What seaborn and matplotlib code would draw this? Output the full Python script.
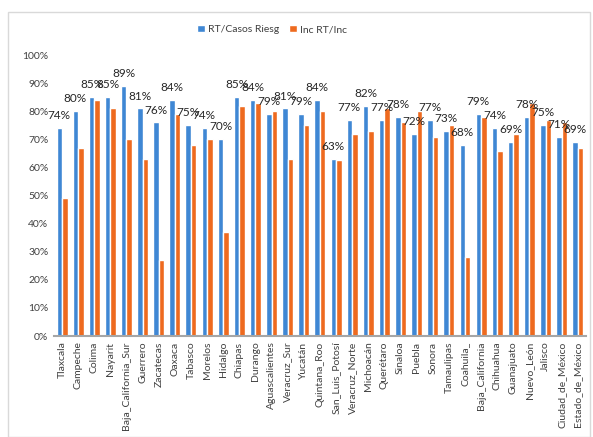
import matplotlib
matplotlib.use("Agg")
import matplotlib.pyplot as plt
import seaborn as sns
import pandas as pd
from matplotlib.ticker import PercentFormatter
from matplotlib.patches import Rectangle

states = ["Tlaxcala", "Campeche", "Colima", "Nayarit", "Baja_California_Sur", "Guerrero",
          "Zacatecas", "Oaxaca", "Tabasco", "Morelos", "Hidalgo", "Chiapas", "Durango",
          "Aguascalientes", "Veracruz_Sur", "Yucatán", "Quintana_Roo", "San_Luis_Potosí",
          "Veracruz_Norte", "Michoacán", "Querétaro", "Sinaloa", "Puebla", "Sonora",
          "Tamaulipas", "Coahuila_", "Baja_California", "Chihuahua", "Guanajuato",
          "Nuevo_León", "Jalisco", "Ciudad_de_México", "Estado_de_México"]
rt_casos = [0.74, 0.80, 0.85, 0.85, 0.89, 0.81, 0.76, 0.84, 0.75, 0.74, 0.70, 0.85, 0.84,
            0.79, 0.81, 0.79, 0.84, 0.63, 0.77, 0.82, 0.77, 0.78, 0.72, 0.77, 0.73, 0.68,
            0.79, 0.74, 0.69, 0.78, 0.75, 0.71, 0.69]
inc_rt = [0.49, 0.67, 0.84, 0.81, 0.70, 0.63, 0.27, 0.79, 0.68, 0.70, 0.37, 0.82, 0.83,
          0.80, 0.63, 0.75, 0.80, 0.625, 0.72, 0.73, 0.81, 0.76, 0.80, 0.71, 0.75, 0.28,
          0.78, 0.66, 0.72, 0.83, 0.77, 0.76, 0.67]
series_names = ["RT/Casos Riesg", "Inc RT/Inc"]

df = pd.concat([
    pd.DataFrame({"estado": states, "valor": rt_casos, "serie": series_names[0]}),
    pd.DataFrame({"estado": states, "valor": inc_rt, "serie": series_names[1]}),
])

sns.set_theme(style="white")
plt.rcParams["font.family"] = ["Lato", "DejaVu Sans"]

fig = plt.figure(figsize=(5.93, 4.37), dpi=100)
ax = fig.add_axes([0.091, 0.231, 0.897, 0.643])

palette = {series_names[0]: "#3F87D4", series_names[1]: "#EE6A1F"}
sns.barplot(data=df, x="estado", y="valor", hue="serie", palette=palette,
            width=0.68, ax=ax, saturation=1, legend=True)

ax.set_ylim(0, 1.0)
ax.set_xlim(-0.5, len(states) - 0.5)
ax.set_yticks([i / 10 for i in range(11)])
ax.yaxis.set_major_formatter(PercentFormatter(1.0, decimals=0))
ax.set_xlabel("")
ax.set_ylabel("")
ax.tick_params(axis="y", labelsize=7.5, labelcolor="#404040", length=0, pad=4)
ax.tick_params(axis="x", labelsize=7.5, labelcolor="#404040", length=0, pad=4, rotation=90)
for s in ["top", "right", "left"]:
    ax.spines[s].set_visible(False)
ax.spines["bottom"].set_color("#A6A6A6")
ax.spines["bottom"].set_linewidth(1.5)

labels = [f"{round(v*100):.0f}%" for v in rt_casos]
ax.bar_label(ax.containers[0], labels=labels, padding=5, fontsize=8.5, color="#262626")

leg = ax.legend(loc="upper center", bbox_to_anchor=(0.41, 1.14), ncol=2, frameon=False,
                fontsize=7.5, handlelength=0.7, handleheight=0.7, columnspacing=1.0,
                handletextpad=0.3)
for t in leg.get_texts():
    t.set_color("#404040")

fig.patches.append(Rectangle((0.013, 0.0), 0.982, 0.972, transform=fig.transFigure,
                             fill=False, edgecolor="#D9D9D9", linewidth=1))

fig.savefig("out.png", dpi=100)
